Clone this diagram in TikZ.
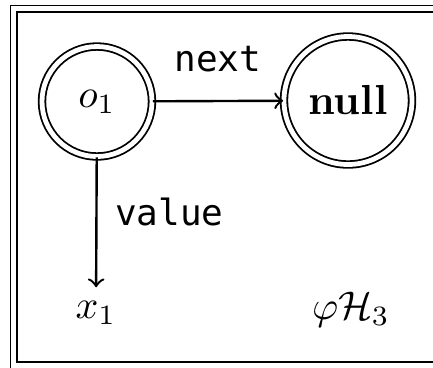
\documentclass[tikz,border=0pt]{standalone}
\usepackage{fontspec}
\newfontfamily\fieldfont{DejaVu Sans Mono}
\begin{document}
\begin{tikzpicture}
  [x=0.25pt,y=-0.25pt,
   obj/.style={circle,draw=black,double,double distance=1.2pt,line width=0.45pt,inner sep=0pt},
   field/.style={font=\fieldfont\fontsize{9}{11}\selectfont},
   link/.style={->,semithick}]
\useasboundingbox (0,0) rectangle (433,368);
\clip (0,0) rectangle (433,368);
% marco doble (recortado a la derecha y abajo)
\draw[double,double distance=1.2pt,line width=0.45pt] (13.75,8.75) rectangle (480,365.5);
% objetos del heap
  \node[obj,minimum size=27.5pt] (o1)   at (97,101.5) {$o_1$};
  \node[obj,minimum size=32pt]   (null) at (348,100.5) {\fontsize{10.5}{12}\selectfont\textbf{null}};
  \node (x1)  at (96,313) {$x_1$};
  \node (phi) at (351,310) {$\varphi\mathcal{H}_3$};

  % campos
  \draw[link] (o1) -- node[field,above=3.5pt] {next} (null);
  \draw[link] (o1) -- node[field,right=1pt,pos=0.42] {value} (x1);
\end{tikzpicture}
\end{document}
